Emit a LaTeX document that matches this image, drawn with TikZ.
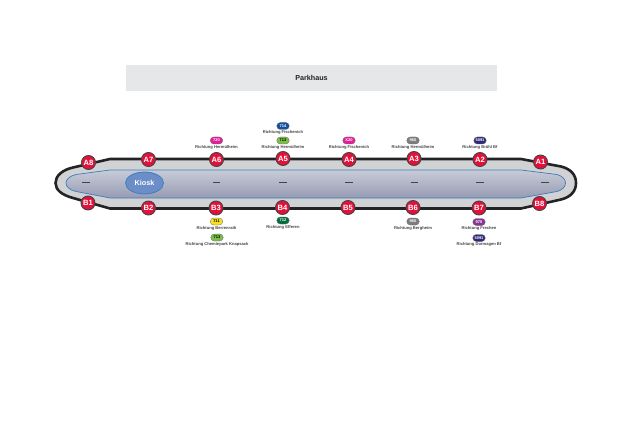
\documentclass[tikz,border=0pt]{standalone}
\usepackage{fontspec}
\setmainfont{Liberation Sans}
\definecolor{halt}{RGB}{227,17,58}
\definecolor{ink}{RGB}{35,35,38}
\definecolor{band}{RGB}{209,210,212}
\definecolor{head}{RGB}{230,231,232}
\definecolor{edge}{RGB}{62,125,190}
\definecolor{kiosk}{RGB}{108,142,200}
\definecolor{tubeT}{RGB}{200,204,216}
\definecolor{tubeM}{RGB}{218,221,230}
\definecolor{tubeB}{RGB}{150,155,178}
\definecolor{lineX}{RGB}{228,30,150}
\definecolor{lineB}{RGB}{20,80,160}
\definecolor{lineG}{RGB}{125,190,75}
\definecolor{lineY}{RGB}{245,225,30}
\definecolor{lineD}{RGB}{0,110,60}
\definecolor{lineN}{RGB}{45,40,120}
\definecolor{lineP}{RGB}{140,50,150}
\definecolor{lineS}{RGB}{125,125,125}
\usepackage{tikz}
\usetikzlibrary{shapes.geometric,shapes.misc}
\tikzset{
  haltnode/.style={circle,draw=ink!85,line width=0.9pt,fill=halt,text=white,inner sep=0pt,minimum size=14pt,
    font=\fontsize{7.6}{8}\selectfont\bfseries},
  busline/.style={rounded rectangle,draw=ink!70,line width=0.3pt,fill=#1,inner sep=0pt,minimum width=12.5pt,minimum height=7pt,
    font=\fontsize{4}{4}\selectfont\bfseries},
  richtung/.style={inner sep=0pt,text=ink!85,font=\fontsize{4.1}{5}\selectfont\bfseries},
  dashmark/.style={fill=ink!85,inner sep=0pt,minimum width=7.5pt,minimum height=1.5pt}
}
\begin{document}
\begin{tikzpicture}[x=1pt,y=-1pt]
        \useasboundingbox (0,0) rectangle (624,441);
        \fill[white] (0,0) rectangle (624,441);
        \node[fill=head,minimum width=371pt,minimum height=26pt,inner sep=0pt,text=ink,font=\fontsize{7.2}{9}\selectfont\bfseries] (parkhaus) at (311.5,78) {Parkhaus};
        % platform
        \draw[ink,line width=2.6pt,line join=round,fill=band]
          (110,159) -- (521,159) -- (561,166.5) .. controls (571,169) and (576,175) .. (576,183)
          .. controls (576,191) and (571,197) .. (561,199.5) -- (521,208.5) -- (110,208.5)
          -- (73,198) .. controls (62,195) and (55.5,190) .. (55.5,183)
          .. controls (55.5,176) and (62,170) .. (73,167.5) -- cycle;
        \shade[top color=tubeT,middle color=tubeM,bottom color=tubeB,draw=edge,line width=0.7pt]
          (110,170) -- (521,170) -- (557,174.5) .. controls (562,176) and (565.5,179) .. (565.5,183)
          .. controls (565.5,187) and (562,190) .. (557,191.5) -- (521,198) -- (110,198)
          -- (76,191.5) .. controls (70,190) and (66,187) .. (66,183)
          .. controls (66,179) and (70,176) .. (76,174.5) -- cycle;
        \node[ellipse,draw=edge,line width=0.8pt,fill=kiosk,text=white,inner sep=0pt,minimum width=38pt,minimum height=22pt,
          font=\fontsize{7.2}{8}\selectfont\bfseries] (kiosk) at (144.5,183) {Kiosk};
        \foreach \x in {86,216.5,283,349,414.5,480,545} {
          \node[dashmark] at (\x,182.5) {};
        }
        % stops
        \node[haltnode] (A1) at (540.5,162) {A1};
        \node[haltnode] (A2) at (480,159.5) {A2};
        \node[haltnode] (A3) at (414,158.5) {A3};
        \node[haltnode] (A4) at (349,159.5) {A4};
        \node[haltnode] (A5) at (283,158.5) {A5};
        \node[haltnode] (A6) at (216.5,159.5) {A6};
        \node[haltnode] (A7) at (148.5,159.5) {A7};
        \node[haltnode] (A8) at (88.5,162.5) {A8};
        \node[haltnode] (B1) at (88,203) {B1};
        \node[haltnode] (B2) at (148.5,208) {B2};
        \node[haltnode] (B3) at (216,208) {B3};
        \node[haltnode] (B4) at (282.5,207.5) {B4};
        \node[haltnode] (B5) at (348,207.5) {B5};
        \node[haltnode] (B6) at (413,207.5) {B6};
        \node[haltnode] (B7) at (479,208) {B7};
        \node[haltnode] (B8) at (539.5,203.5) {B8};
        % lines above
        \node[busline=lineX,text=white] (bus720) at (216.5,140.5) {720};
        \node[richtung] (ziel720) at (216.5,147) {Richtung Hermülheim};
        \node[busline=lineB,text=white] (bus714) at (283,126) {714};
        \node[richtung] (ziel714) at (283,132.5) {Richtung Fischenich};
        \node[busline=lineG] (bus713) at (283,140.5) {713};
        \node[richtung] (ziel713) at (283,147) {Richtung Hermülheim};
        \node[busline=lineX,text=white] (busX20) at (349,140.5) {X20};
        \node[richtung] (zielX20) at (349,147) {Richtung Fischenich};
        \node[busline=lineS,text=white] (bus960) at (413,140.5) {960};
        \node[richtung] (ziel960) at (413,147) {Richtung Hermülheim};
        \node[busline=lineN,text=white] (bus5091) at (480,140.5) {5091};
        \node[richtung] (ziel5091) at (480,147) {Richtung Brühl Bf};
        % lines below
        \node[busline=lineY] (bus711) at (216.5,221.5) {711};
        \node[richtung] (ziel711) at (216.5,228) {Richtung Berrenrath};
        \node[busline=lineG] (bus713b) at (217,237.5) {713};
        \node[richtung] (ziel713b) at (217,244) {Richtung Chemiepark Knapsack};
        \node[busline=lineD,text=white] (bus712) at (283,220.5) {712};
        \node[richtung] (ziel712) at (283,227) {Richtung Efferen};
        \node[busline=lineS,text=white] (bus960b) at (413,221.5) {960};
        \node[richtung] (ziel960b) at (413,228) {Richtung Bergheim};
        \node[busline=lineP,text=white] (bus970) at (479,222) {970};
        \node[richtung] (ziel970) at (479,228.5) {Richtung Frechen};
        \node[busline=lineN,text=white] (bus5091b) at (479,238) {5091};
        \node[richtung] (ziel5091b) at (479,244.5) {Richtung Dormagen Bf};
      \end{tikzpicture}
\end{document}
